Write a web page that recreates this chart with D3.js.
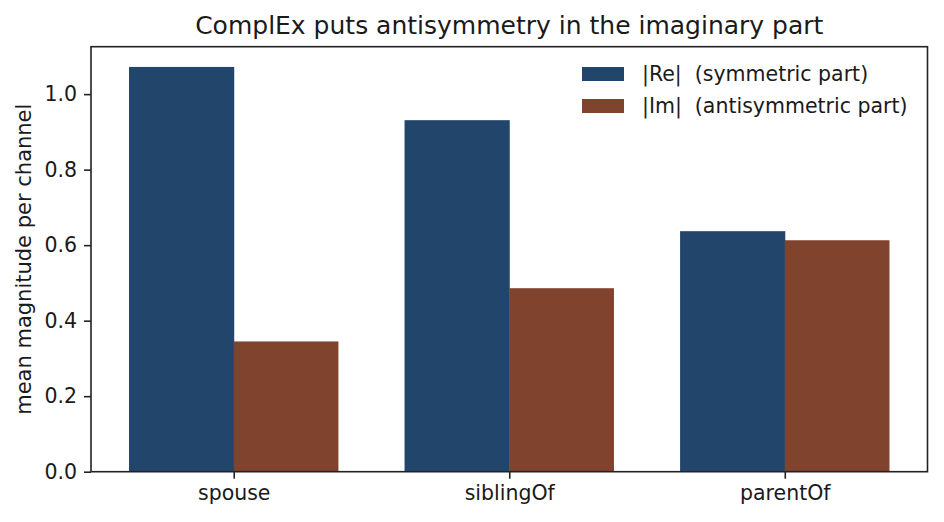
<!DOCTYPE html>
<html>
<head>
<meta charset="utf-8">
<script src="https://cdn.jsdelivr.net/npm/d3@7"></script>
<style>
  body { margin: 0; background: #fff; }
  text { font-family: "DejaVu Sans", sans-serif; fill: #1a1a1a; white-space: pre; }
</style>
</head>
<body>
<div id="chart"></div>
<script>
// values
var relations = ["spouse", "siblingOf", "parentOf"];
var reValues = [1.072, 0.931, 0.637];
var imValues = [0.345, 0.486, 0.613];
var seriesNames = ["|Re|  (symmetric part)", "|Im|  (antisymmetric part)"];
var yTicks = [0.0, 0.2, 0.4, 0.6, 0.8, 1.0];

var svgWidth = 944;
var svgHeight = 522;
var margin = { top: 46.7, right: 16.5, bottom: 50.3, left: 91 };
var width = svgWidth - margin.left - margin.right;
var height = svgHeight - margin.top - margin.bottom;

var colors = ["#22466b", "#80432e"];
var barW = 0.38;
var fontPx = "20.5px";

var svg = d3.select("#chart")
    .append("svg")
    .attr("width", svgWidth)
    .attr("height", svgHeight);

var chartGroup = svg.append("g")
    .attr("transform", `translate(${margin.left}, ${margin.top})`);

// matplotlib-like linear x in category units
var xScale = d3.scaleLinear()
    .domain([-barW - 0.138, relations.length - 1 + barW + 0.138])
    .range([0, width]);
var yScale = d3.scaleLinear()
    .domain([0, d3.max(reValues) * 1.05])
    .range([height, 0]);

// bars
var series = [reValues, imValues];
series.forEach(function(vals, s) {
    chartGroup.selectAll(".bar" + s)
        .data(vals)
        .enter()
        .append("rect")
        .attr("x", (d, i) => xScale(i + (s === 0 ? -barW : 0)))
        .attr("width", xScale(barW) - xScale(0) + (s === 0 ? 0.5 : 0))
        .attr("y", d => yScale(d))
        .attr("height", d => yScale(0) - yScale(d))
        .attr("fill", colors[s]);
});

// axes
var bottomAxis = d3.axisBottom(xScale)
    .tickValues(d3.range(relations.length))
    .tickFormat(i => relations[i])
    .tickSize(7)
    .tickPadding(7)
    .tickSizeOuter(0);
var leftAxis = d3.axisLeft(yScale)
    .tickValues(yTicks)
    .tickFormat(d3.format(".1f"))
    .tickSize(7)
    .tickPadding(7)
    .tickSizeOuter(0);

var xg = chartGroup.append("g")
    .attr("transform", `translate(0, ${height})`)
    .call(bottomAxis);
var yg = chartGroup.append("g")
    .call(leftAxis);

[xg, yg].forEach(function(g) {
    g.select(".domain").remove();
    g.selectAll(".tick line").attr("stroke", "#222").attr("stroke-width", 1.6);
    g.selectAll(".tick text")
        .style("font-family", "DejaVu Sans")
        .style("font-size", fontPx)
        .attr("fill", "#1a1a1a");
});

// frame
chartGroup.append("rect")
    .attr("x", 0)
    .attr("y", 0)
    .attr("width", width)
    .attr("height", height)
    .attr("fill", "none")
    .attr("stroke", "#222")
    .attr("stroke-width", 1.6);

// labels
chartGroup.append("text")
    .attr("transform", `translate(${24 - margin.left + 7}, ${height / 2}) rotate(-90)`)
    .attr("text-anchor", "middle")
    .style("font-size", "21px")
    .text("mean magnitude per channel");

svg.append("text")
    .attr("x", margin.left + width / 2)
    .attr("y", 34)
    .attr("text-anchor", "middle")
    .style("font-size", "25px")
    .text("ComplEx puts antisymmetry in the imaginary part");

// legend, no frame
var legend = svg.append("g")
    .attr("transform", "translate(582, 67)");
seriesNames.forEach(function(name, s) {
    legend.append("rect")
        .attr("x", 0)
        .attr("y", s * 32)
        .attr("width", 42)
        .attr("height", 14)
        .attr("fill", colors[s]);
    legend.append("text")
        .attr("x", 60)
        .attr("y", s * 32 + 7)
        .attr("dy", "0.35em")
        .attr("xml:space", "preserve")
        .style("font-size", fontPx)
        .text(name);
});
</script>
</body>
</html>
